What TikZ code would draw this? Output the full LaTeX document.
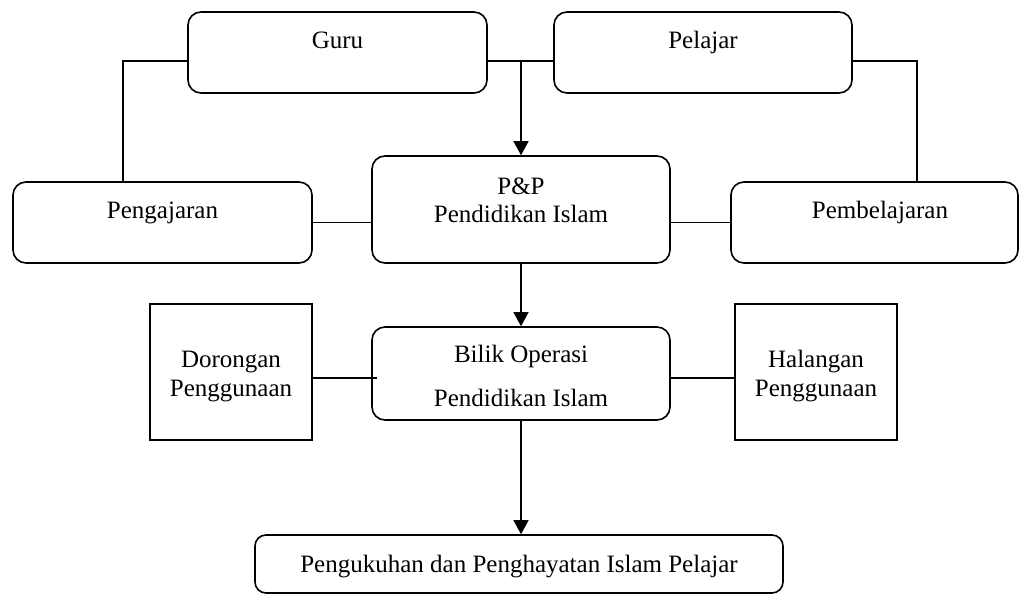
\documentclass[tikz,border=0pt]{standalone}
\usepackage{fontspec}
\setmainfont{Liberation Serif}
\usetikzlibrary{arrows.meta}
\begin{document}
\begin{tikzpicture}[x=1pt,y=-1pt,
  rbox/.style={draw, line width=1.6pt, rounded corners=13pt, inner sep=0pt},
  sqbox/.style={draw, line width=1.6pt, inner sep=0pt},
  txt/.style={font=\fontsize{25}{28}\selectfont, inner sep=0pt, anchor=base},
  conn/.style={line width=1.5pt},
  arr/.style={line width=1.5pt, -{Triangle[width=15pt,length=14pt]}}]
\useasboundingbox (0,0) rectangle (1020,595);
% boxes
\node[rbox, minimum width=299pt, minimum height=81pt] (guru) at (337.5,52.5) {};
\node[rbox, minimum width=298pt, minimum height=81pt] (pelajar) at (703,52.5) {};
\node[rbox, minimum width=299pt, minimum height=81pt] (pengajaran) at (162.5,222.5) {};
\node[rbox, minimum width=298pt, minimum height=107pt] (pp) at (521,209.5) {};
\node[rbox, minimum width=287pt, minimum height=81pt] (pembelajaran) at (874.5,222.5) {};
\node[sqbox, minimum width=162pt, minimum height=136pt] (dorongan) at (231,372) {};
\node[rbox, minimum width=298pt, minimum height=93pt] (bilik) at (521,373.5) {};
\node[sqbox, minimum width=162pt, minimum height=136pt] (halangan) at (816,372) {};
\node[rbox, rounded corners=11pt, minimum width=528pt, minimum height=58pt] (hasil) at (519,564) {};
% texts
\node[txt] (tguru) at (337.5,48) {Guru};
\node[txt] (tpelajar) at (703,48) {Pelajar};
\node[txt] (tpengajaran) at (162.5,218) {Pengajaran};
\node[txt] (tpembelajaran) at (880,218) {Pembelajaran};
\node[txt] (tpp1) at (521,194) {P\&P};
\node[txt] (tpp2) at (521,222.7) {Pendidikan Islam};
\node[txt] (tbilik1) at (521,362.7) {Bilik Operasi};
\node[txt] (tbilik2) at (521,406.7) {Pendidikan Islam};
\node[txt] (tdor1) at (231,367.3) {Dorongan};
\node[txt] (tdor2) at (231,396) {Penggunaan};
\node[txt] (thal1) at (816,367.3) {Halangan};
\node[txt] (thal2) at (816,396) {Penggunaan};
\node[txt] (thasil) at (519,572) {Pengukuhan dan Penghayatan Islam Pelajar};
% connectors
\coordinate (j) at (521,61);
\coordinate (lc) at (123,61);
\coordinate (rc) at (917,61);
\coordinate (dl) at (377,378);
\draw[conn] (guru.east |- j) -- (pelajar.west |- j);
\draw[arr] (j) -- (pp.north);
\draw[conn] (guru.west |- j) -- (lc) -- (lc |- pengajaran.north);
\draw[conn] (pelajar.east |- j) -- (rc) -- (rc |- pembelajaran.north);
\draw[conn] (pengajaran.east) -- (pp.west |- pengajaran.east);
\draw[conn] (pp.east |- pembelajaran.west) -- (pembelajaran.west);
\draw[arr] (pp.south) -- (bilik.north);
\draw[conn] (dorongan.east |- dl) -- (dl);
\draw[conn] (bilik.east |- dl) -- (halangan.west |- dl);
\draw[arr] (bilik.south) -- (bilik.south |- hasil.north);
\end{tikzpicture}
\end{document}
